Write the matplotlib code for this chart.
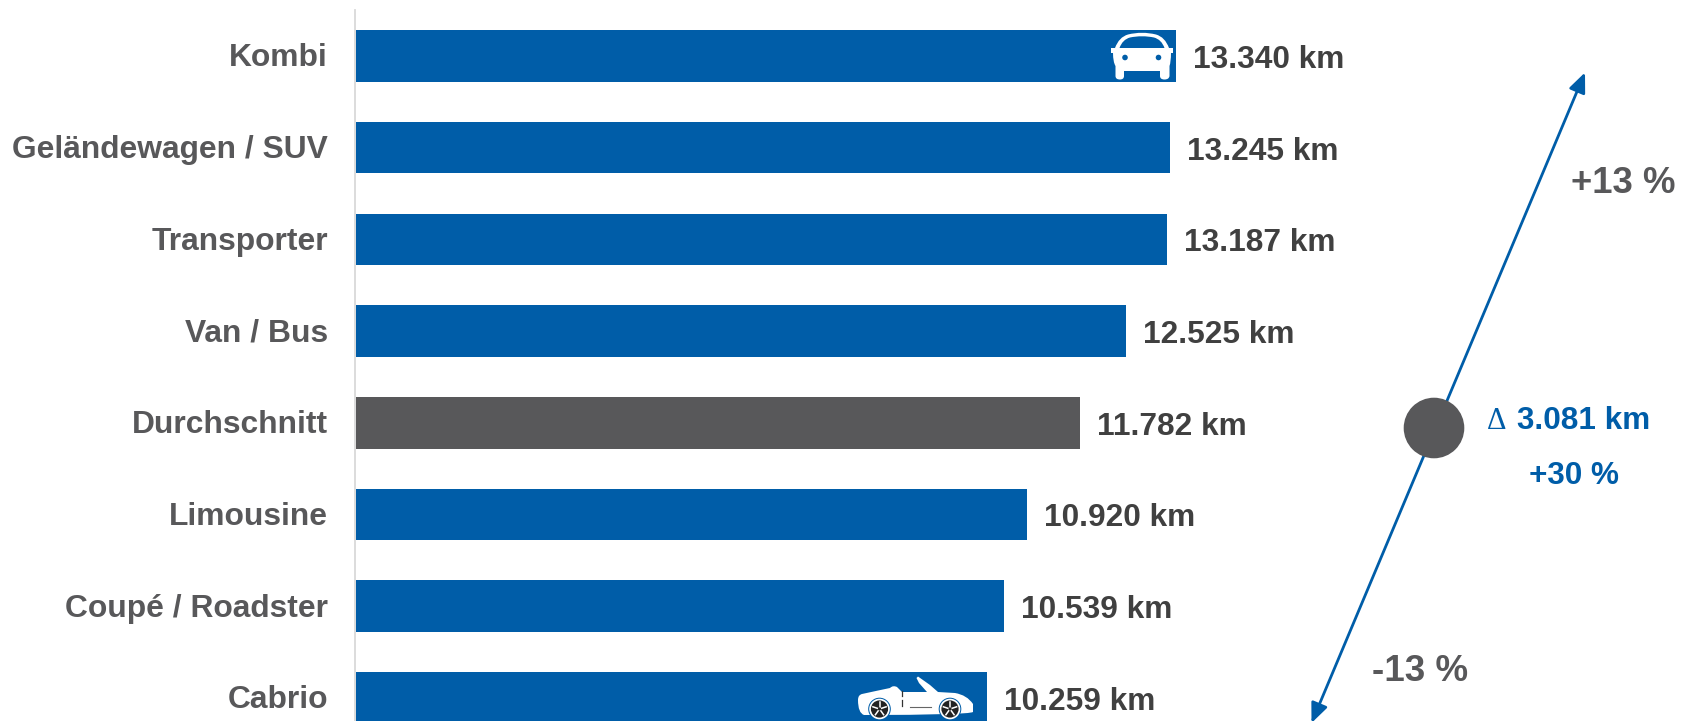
import matplotlib
matplotlib.use("Agg")
import matplotlib.pyplot as plt
from matplotlib.path import Path
from matplotlib.patches import PathPatch, Circle, FancyArrowPatch
from matplotlib.transforms import Affine2D, ScaledTranslation

categories = ["Kombi", "Geländewagen / SUV", "Transporter", "Van / Bus",
              "Durchschnitt", "Limousine", "Coupé / Roadster", "Cabrio"]
values = [13340, 13245, 13187, 12525, 11782, 10920, 10539, 10259]
value_labels = ["13.340 km", "13.245 km", "13.187 km", "12.525 km",
                "11.782 km", "10.920 km", "10.539 km", "10.259 km"]
highlight = "Durchschnitt"

BLUE = "#005DA8"
GREY = "#58585A"
DARK = "#404040"
W, H = 1692, 721
plt.rcParams["font.family"] = ["Liberation Sans", "DejaVu Sans"]

fig = plt.figure(figsize=(W / 100, H / 100), dpi=100, facecolor="white")
PX = Affine2D().scale(1 / W, -1 / H).translate(0, 1) + fig.transFigure

ax = fig.add_axes([356 / W, 0, (W - 356) / W, 1])
ax.patch.set_alpha(0)
pitch = 91.7
colors = [GREY if c == highlight else BLUE for c in categories]
ypos = list(range(len(categories)))
ax.barh(ypos, values, height=51.5 / pitch, color=colors, linewidth=0)
ax.set_ylim((H - 56) / pitch, -56 / pitch)
ax.set_xlim(0, (W - 356) / 0.06147)

ax.xaxis.set_visible(False)
for s in ("top", "right", "bottom"):
    ax.spines[s].set_visible(False)
ax.spines["left"].set_color("#D9D9D9")
ax.spines["left"].set_linewidth(1.3)
ax.spines["left"].set_position(("outward", 0.8))
ax.spines["left"].set_bounds((10 - 56) / pitch, (H - 56) / pitch)

# ticks are styled after the spine move, which resets them
ax.set_yticks(ypos)
ax.set_yticklabels(categories, fontsize=22.9, fontweight="bold", color=GREY)
ax.tick_params(axis="y", length=0, pad=19.4)
lift = ScaledTranslation(0, 1 / 100, fig.dpi_scale_trans)
for lbl in ax.get_yticklabels():
    lbl.set_transform(lbl.get_transform() + lift)

for y, v, lab in zip(ypos, values, value_labels):
    ax.annotate(lab, (v, y), xytext=(12.2, -2.8), textcoords="offset points",
                va="center", ha="left", fontsize=22.8, fontweight="bold",
                color=DARK)


def px_path(pts, **kw):
    p = PathPatch(Path([a for a, _ in pts], [c for _, c in pts]), transform=PX,
                  clip_on=False, **kw)
    fig.add_artist(p)
    return p


M, L, C, Z = Path.MOVETO, Path.LINETO, Path.CURVE3, Path.CLOSEPOLY
# car icon (front view)
px_path([
    ((1111, 48), M), ((1115, 48), L), ((1119, 37), C), ((1128, 34.5), L),
    ((1142, 31), C), ((1156, 34.5), L), ((1165, 37), C), ((1169, 48), L),
    ((1173, 48), L), ((1173, 53), L), ((1171, 53), L), ((1171, 62), C), ((1169.5, 66), L),
    ((1169.5, 76), L), ((1169, 79.5), C), ((1164.5, 79.5), L), ((1160, 79.5), C),
    ((1160, 76), L), ((1160, 71), L), ((1124, 71), L),
    ((1124, 76), L), ((1124, 79.5), C), ((1120, 79.5), L), ((1115.5, 79.5), C),
    ((1115.5, 76), L), ((1115.5, 66), L), ((1113, 62), C), ((1113, 53), L),
    ((1111, 53), L), ((1111, 48), Z),
], fc="white", ec="none", zorder=5)
px_path([
    ((1119.5, 48), M), ((1122.5, 39.5), C), ((1130, 37.5), L), ((1142, 35), C),
    ((1154, 37.5), L), ((1161.5, 39.5), C), ((1164.5, 48), L), ((1119.5, 48), Z),
], fc=BLUE, ec="none", zorder=6)
for cx in (1125, 1158.5):
    fig.add_artist(Circle((cx, 57.5), 2.8, transform=PX, fc=BLUE, ec="none", zorder=6))

# convertible icon (side view)
px_path([
    ((858, 700), M), ((858, 695), C), ((862, 694), L), ((878, 690.5), C),
    ((890, 688), L), ((893, 685), C), ((897, 687), L), ((902, 692), L),
    ((927, 692), L), ((919, 683), L), ((916.5, 678), L), ((918, 676.5), L),
    ((930, 685), L), ((938, 692), L), ((955, 693), L), ((967, 695), C),
    ((973, 704), L), ((973, 712), L), ((968, 715), C), ((864, 715), L),
    ((858, 713), C), ((858, 700), Z),
], fc="white", ec="none", zorder=5)
for cx in (879.5, 950):
    fig.add_artist(Circle((cx, 709), 11.3, transform=PX, fc=BLUE, ec="none", zorder=6))
    fig.add_artist(Circle((cx, 709), 10.3, transform=PX, fc="white", ec="none", zorder=6))
    fig.add_artist(Circle((cx, 709), 8.6, transform=PX, fc="#222222", ec="none", zorder=7))
    for dx, dy in ((0, -7), (6.6, -2.2), (4.1, 5.7), (-4.1, 5.7), (-6.6, -2.2)):
        fig.add_artist(plt.Line2D([cx, cx + dx], [709, 709 + dy], transform=PX,
                                  color="white", lw=1.1, zorder=8))
    fig.add_artist(Circle((cx, 709), 1.6, transform=PX, fc="#222222", ec="none", zorder=9))
fig.add_artist(plt.Line2D([910, 931], [707, 707], transform=PX, color="#666666", lw=0.8, zorder=7))
fig.add_artist(plt.Line2D([902, 902], [691, 695.5], transform=PX, color="#333333", lw=0.9, zorder=7))
fig.add_artist(plt.Line2D([902, 902], [700, 706], transform=PX, color="#333333", lw=0.9, zorder=7))

# spread arrow with the average marker
arrow = FancyArrowPatch((1311.5, 723), (1585, 72.5), transform=PX,
                        arrowstyle="<|-|>,head_length=0.7,head_width=0.3",
                        mutation_scale=17, lw=2.0, color=BLUE, shrinkA=0, shrinkB=0,
                        clip_on=False, zorder=3)
fig.add_artist(arrow)
fig.add_artist(Circle((1434, 428), 30.3, transform=PX, fc=GREY, ec="none", zorder=4))

fig.text(1497 / W, 1 - 429.5 / H, "Δ", family="Liberation Serif", fontsize=22, color=BLUE,
         ha="center", va="baseline")
fig.text(1517 / W, 1 - 429.5 / H, "3.081 km", fontsize=22.7, fontweight="bold", color=BLUE,
         ha="left", va="baseline")
fig.text(1574 / W, 1 - 484 / H, "+30 %", fontsize=22.7, fontweight="bold", color=BLUE,
         ha="center", va="baseline")
fig.text(1623.5 / W, 1 - 193 / H, "+13 %", fontsize=26.3, fontweight="bold", color=GREY,
         ha="center", va="baseline")
fig.text(1420 / W, 1 - 681 / H, "-13 %", fontsize=26.5, fontweight="bold", color=GREY,
         ha="center", va="baseline")

fig.savefig("out.png", dpi=100, facecolor="white")
